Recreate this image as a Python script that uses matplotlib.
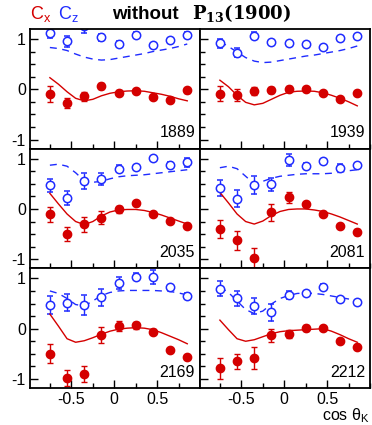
import matplotlib.pyplot as plt
from matplotlib.ticker import MultipleLocator

plt.rcParams['font.family'] = ['Liberation Sans', 'DejaVu Sans']
plt.rcParams['mathtext.fontset'] = 'custom'
plt.rcParams['mathtext.rm'] = 'Liberation Sans'
plt.rcParams['mathtext.sf'] = 'Liberation Sans'
plt.rcParams['mathtext.bf'] = 'DejaVu Serif:bold'

# kaon angle bins and model curve grid
cos_theta = [-0.75, -0.55, -0.35, -0.15, 0.05, 0.25, 0.45, 0.65, 0.85]
curve_x = [-0.75, -0.65, -0.55, -0.45, -0.35, -0.25, -0.15, -0.05, 0.05,
           0.15, 0.25, 0.35, 0.45, 0.55, 0.65, 0.75, 0.85]

energies = ['1889', '1939', '2035', '2081', '2169', '2212']

cx_vals = [
    [-0.10, -0.27, -0.14, 0.06, -0.07, -0.03, -0.15, -0.21, -0.02],
    [-0.09, -0.11, -0.03, -0.02, 0.01, 0.00, -0.07, -0.19, -0.07],
    [-0.11, -0.50, -0.30, -0.17, -0.01, 0.11, -0.11, -0.24, -0.33],
    [-0.39, -0.62, -0.97, -0.07, 0.23, 0.09, -0.11, -0.33, -0.45],
    [-0.50, -0.98, -0.90, -0.13, 0.05, 0.07, -0.06, -0.43, -0.56],
    [-0.79, -0.65, -0.58, -0.13, -0.11, 0.02, 0.01, -0.25, -0.37],
]
cx_errs = [
    [0.16, 0.10, 0.09, 0.06, 0.05, 0.03, 0.03, 0.03, 0.05],
    [0.15, 0.12, 0.08, 0.06, 0.05, 0.03, 0.03, 0.03, 0.03],
    [0.14, 0.14, 0.15, 0.12, 0.07, 0.03, 0.03, 0.03, 0.05],
    [0.18, 0.19, 0.20, 0.16, 0.11, 0.05, 0.03, 0.03, 0.06],
    [0.19, 0.15, 0.16, 0.16, 0.10, 0.07, 0.05, 0.03, 0.04],
    [0.21, 0.15, 0.22, 0.13, 0.08, 0.06, 0.04, 0.03, 0.03],
]
cz_vals = [
    [1.11, 0.95, 1.25, 1.03, 0.90, 1.08, 0.88, 0.97, 1.08],
    [0.91, 0.73, 1.06, 0.93, 0.91, 0.89, 0.85, 1.01, 1.06],
    [0.47, 0.22, 0.55, 0.60, 0.80, 0.83, 1.02, 0.88, 0.93],
    [0.42, 0.20, 0.47, 0.49, 0.98, 0.85, 0.95, 0.82, 0.87],
    [0.47, 0.52, 0.47, 0.62, 0.90, 1.03, 1.03, 0.82, 0.65],
    [0.79, 0.60, 0.45, 0.33, 0.67, 0.70, 0.83, 0.59, 0.53],
]
cz_errs = [
    [0.10, 0.10, 0.14, 0.07, 0.06, 0.05, 0.04, 0.03, 0.05],
    [0.08, 0.09, 0.07, 0.05, 0.03, 0.02, 0.03, 0.02, 0.03],
    [0.13, 0.14, 0.16, 0.12, 0.07, 0.03, 0.02, 0.05, 0.09],
    [0.16, 0.17, 0.18, 0.13, 0.12, 0.06, 0.05, 0.07, 0.03],
    [0.17, 0.17, 0.20, 0.17, 0.12, 0.07, 0.14, 0.03, 0.05],
    [0.15, 0.14, 0.16, 0.17, 0.08, 0.03, 0.05, 0.02, 0.02],
]

# model curves without the P13(1900) resonance
cx_curve = [
    [0.23, 0.10, -0.05, -0.18, -0.23, -0.20, -0.13, -0.08, -0.05, -0.035, -0.03, -0.04, -0.07, -0.10, -0.14, -0.19, -0.23],
    [0.18, 0.05, -0.12, -0.26, -0.31, -0.28, -0.20, -0.12, -0.06, -0.04, -0.035, -0.04, -0.07, -0.12, -0.18, -0.25, -0.33],
    [0.31, 0.10, -0.10, -0.25, -0.31, -0.25, -0.14, -0.06, -0.02, -0.01, -0.01, -0.03, -0.07, -0.12, -0.18, -0.24, -0.30],
    [0.33, 0.12, -0.10, -0.25, -0.30, -0.24, -0.13, -0.05, -0.01, 0.00, 0.00, -0.02, -0.05, -0.10, -0.16, -0.23, -0.30],
    [0.29, 0.05, -0.20, -0.27, -0.24, -0.18, -0.11, -0.05, -0.01, 0.01, 0.02, 0.01, -0.02, -0.08, -0.15, -0.22, -0.30],
    [0.17, -0.02, -0.20, -0.25, -0.22, -0.16, -0.10, -0.06, -0.04, -0.03, -0.02, -0.01, 0.00, -0.05, -0.12, -0.20, -0.27],
]
cz_curve = [
    [0.83, 0.81, 0.77, 0.70, 0.64, 0.60, 0.58, 0.59, 0.62, 0.65, 0.68, 0.71, 0.75, 0.78, 0.81, 0.85, 0.90],
    [0.95, 0.85, 0.74, 0.63, 0.56, 0.53, 0.54, 0.57, 0.60, 0.63, 0.66, 0.68, 0.71, 0.74, 0.77, 0.81, 0.86],
    [0.87, 0.89, 0.85, 0.72, 0.56, 0.53, 0.55, 0.60, 0.64, 0.66, 0.67, 0.68, 0.70, 0.72, 0.74, 0.76, 0.78],
    [0.82, 0.85, 0.80, 0.65, 0.50, 0.55, 0.61, 0.65, 0.67, 0.69, 0.70, 0.70, 0.70, 0.71, 0.73, 0.76, 0.78],
    [0.75, 0.70, 0.60, 0.48, 0.45, 0.55, 0.66, 0.72, 0.75, 0.76, 0.76, 0.76, 0.76, 0.75, 0.74, 0.71, 0.67],
    [0.83, 0.72, 0.55, 0.38, 0.30, 0.35, 0.49, 0.60, 0.66, 0.70, 0.71, 0.70, 0.68, 0.65, 0.62, 0.59, 0.56],
]

RED = '#d40000'
BLUE = '#1f2bff'

fig, axes = plt.subplots(3, 2, figsize=(3.72, 4.25), dpi=100, sharex=True, sharey=True)
fig.subplots_adjust(left=0.081, right=0.995, top=0.932, bottom=0.087, wspace=0, hspace=0)

for i, ax in enumerate(axes.flatten()):
    ax.errorbar(cos_theta, cz_vals[i], yerr=cz_errs[i], fmt='o', color=BLUE,
                mfc='white', mec=BLUE, ms=6, mew=1.1, elinewidth=1, capsize=2.5)
    ax.errorbar(cos_theta, cx_vals[i], yerr=cx_errs[i], fmt='o', color=RED,
                ms=6, elinewidth=1, capsize=2.5)
    ax.plot(curve_x, cx_curve[i], color=RED, lw=1)
    ax.plot(curve_x, cz_curve[i], color=BLUE, lw=1, ls=(0, (5, 4)))

    ax.text(0.97, 0.07, energies[i], transform=ax.transAxes, ha='right', va='bottom',
            fontsize=11.5)

    ax.set_xlim(-0.98, 1.0)
    ax.set_ylim(-1.18, 1.2)
    ax.xaxis.set_major_locator(MultipleLocator(0.5))
    ax.xaxis.set_minor_locator(MultipleLocator(0.25))
    ax.yaxis.set_major_locator(MultipleLocator(1))
    ax.yaxis.set_minor_locator(MultipleLocator(0.25))
    ax.tick_params(which='both', direction='in', top=False, right=False, labelsize=11.5, pad=3)
    ax.tick_params(which='major', length=6, width=1)
    ax.tick_params(which='minor', length=3.5, width=1)
    for sp in ax.spines.values():
        sp.set_linewidth(1.3)

for ax in axes[-1]:
    ax.set_xticks([-0.5, 0, 0.5])
    ax.set_xticklabels(['-0.5', '0', '0.5'])
for ax in axes[:, 0]:
    ax.set_yticks([-1, 0, 1])
    ax.set_yticklabels(['-1', '0', '1'])

fig.text(0.08, 0.955, r'C$_\mathsf{x}$', color=RED, fontsize=13, ha='left', va='baseline')
fig.text(0.155, 0.955, r'C$_\mathsf{z}$', color=BLUE, fontsize=13, ha='left', va='baseline')
fig.text(0.302, 0.955, 'without', fontsize=13.5, fontweight='bold', ha='left', va='baseline')
fig.text(0.515, 0.955, r'$\mathbf{P_{13}(1900)}$', fontsize=13, ha='left', va='baseline')
fig.text(0.995, 0.012, r'cos θ$_\mathsf{K}$', fontsize=11.5, ha='right', va='baseline')

fig.savefig('out.png', dpi=100)
